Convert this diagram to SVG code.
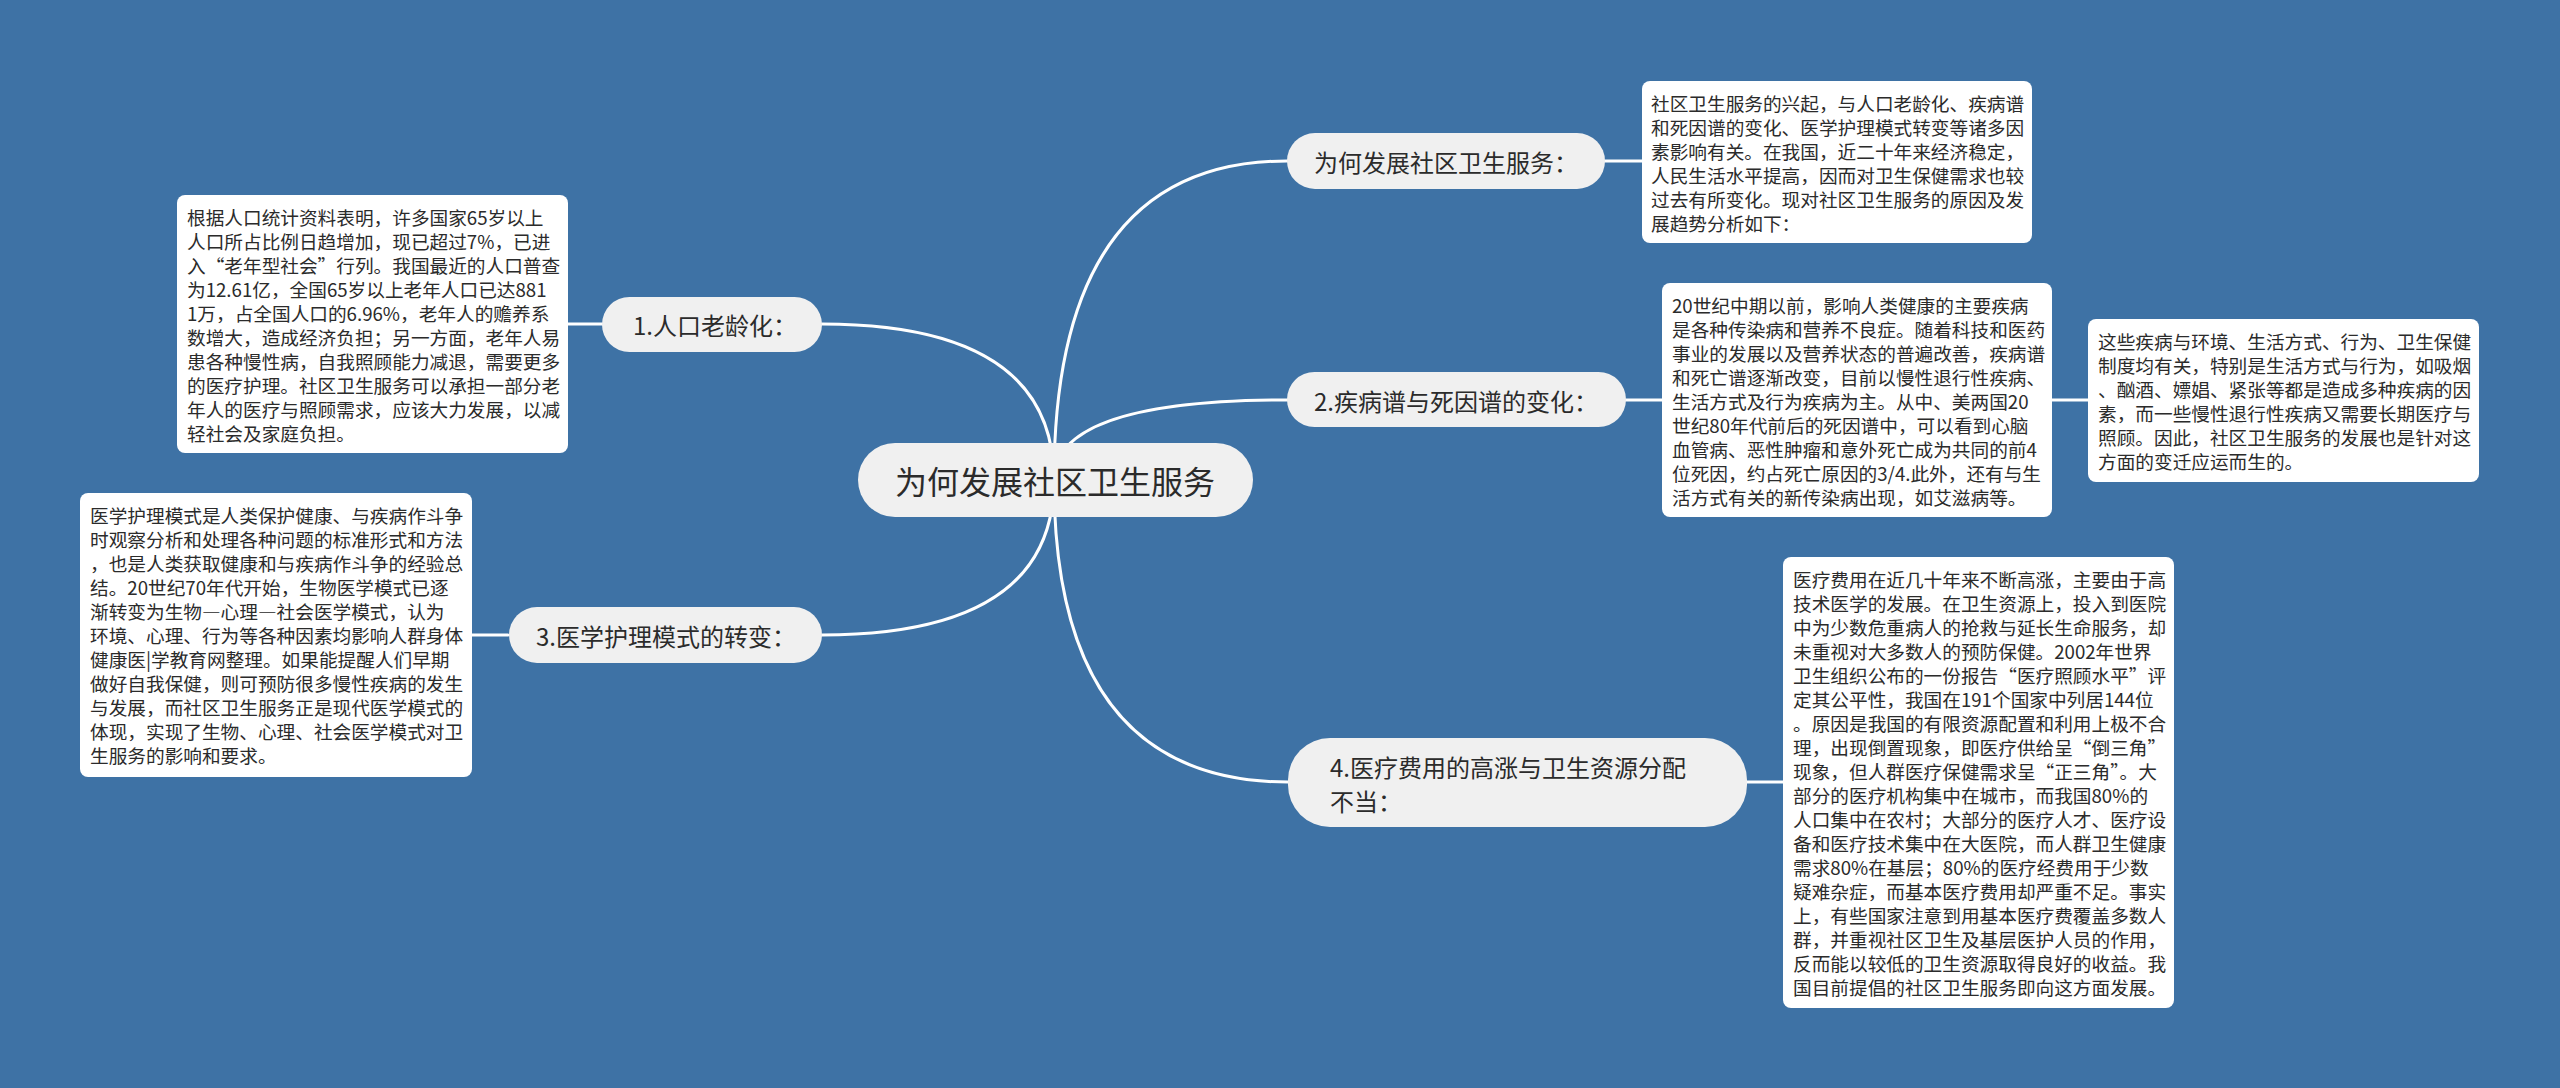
<svg xmlns="http://www.w3.org/2000/svg" width="2560" height="1088" viewBox="0 0 2560 1088">
<style>
.bg{fill:#3e72a5}
.topic{fill:#f0f0f0}
.box{fill:#ffffff}
.ln{fill:none;stroke:#ffffff;stroke-width:3;stroke-linecap:round}
text{font-family:"Noto Sans CJK SC","Noto Sans",sans-serif;fill:#2b2b2b;dominant-baseline:central}
.t24{font-size:24px}
.t32{font-size:32px}
.b{font-size:18.67px}
.fw{font-feature-settings:"fwid" 1}
</style>
<rect class="bg" x="0" y="0" width="2560" height="1088"/>
<g id="connectors">
<path class="ln" d="M1054,480 Q1054,161 1287,161"/>
<path class="ln" d="M1054,480 Q1054,400 1287,400"/>
<path class="ln" d="M1054,480 Q1054,324 822,324"/>
<path class="ln" d="M1054,480 Q1054,635 822,635"/>
<path class="ln" d="M1054,480 Q1054,782 1288,782"/>
<path class="ln" d="M1605,161 L1642,161"/>
<path class="ln" d="M1626,400 L1662,400"/>
<path class="ln" d="M2052,400 L2088,400"/>
<path class="ln" d="M1747,782 L1783,782"/>
<path class="ln" d="M568,324 L602,324"/>
<path class="ln" d="M472,635 L508,635"/>
</g>
<g id="root">
<rect class="topic" x="858" y="443" width="395" height="74" rx="37"/>
<text class="t32" x="1055" y="480" text-anchor="middle">为何发展社区卫生服务</text>
</g>
<g id="topic-why">
<rect class="topic" x="1287" y="133" width="318" height="56" rx="28"/>
<text class="t24" x="1314" y="161">为何发展社区卫生服务：</text>
</g>
<g id="topic-2">
<rect class="topic" x="1287" y="372" width="339" height="55" rx="27.5"/>
<text class="t24" x="1314" y="400">2.疾病谱与死因谱的变化：</text>
</g>
<g id="topic-1">
<rect class="topic" x="602" y="297" width="220" height="55" rx="27.5"/>
<text class="t24" x="633" y="324">1.人口老龄化：</text>
</g>
<g id="topic-3">
<rect class="topic" x="509" y="607" width="313" height="56" rx="28"/>
<text class="t24" x="536" y="635">3.医学护理模式的转变：</text>
</g>
<g id="topic-4">
<rect class="topic" x="1288" y="738" width="459" height="89" rx="42"/>
<text class="t24" x="1330" y="766">4.医疗费用的高涨与卫生资源分配</text>
<text class="t24" x="1330" y="800">不当：</text>
</g>
<g id="note-why">
<rect class="box" x="1642" y="81" width="390" height="162" rx="8"/>
<text class="b" x="1651" y="102">社区卫生服务的兴起，与人口老龄化、疾病谱</text>
<text class="b" x="1651" y="126">和死因谱的变化、医学护理模式转变等诸多因</text>
<text class="b" x="1651" y="150">素影响有关。在我国，近二十年来经济稳定，</text>
<text class="b" x="1651" y="174">人民生活水平提高，因而对卫生保健需求也较</text>
<text class="b" x="1651" y="198">过去有所变化。现对社区卫生服务的原因及发</text>
<text class="b" x="1651" y="222">展趋势分析如下：</text>
</g>
<g id="note-1">
<rect class="box" x="177" y="195" width="391" height="258" rx="8"/>
<text class="b" x="187" y="216">根据人口统计资料表明，许多国家65岁以上</text>
<text class="b" x="187" y="240">人口所占比例日趋增加，现已超过7%，已进</text>
<text class="b" x="187" y="264">入“老年型社会”行列。我国最近的人口普查</text>
<text class="b" x="187" y="288">为12.61亿，全国65岁以上老年人口已达881</text>
<text class="b" x="187" y="312">1万，占全国人口的6.96%，老年人的赡养系</text>
<text class="b" x="187" y="336">数增大，造成经济负担；另一方面，老年人易</text>
<text class="b" x="187" y="360">患各种慢性病，自我照顾能力减退，需要更多</text>
<text class="b" x="187" y="384">的医疗护理。社区卫生服务可以承担一部分老</text>
<text class="b" x="187" y="408">年人的医疗与照顾需求，应该大力发展，以减</text>
<text class="b" x="187" y="432">轻社会及家庭负担。</text>
</g>
<g id="note-2">
<rect class="box" x="1662" y="283" width="390" height="234" rx="8"/>
<text class="b" x="1672" y="304">20世纪中期以前，影响人类健康的主要疾病</text>
<text class="b" x="1672" y="328">是各种传染病和营养不良症。随着科技和医药</text>
<text class="b" x="1672" y="352">事业的发展以及营养状态的普遍改善，疾病谱</text>
<text class="b" x="1672" y="376">和死亡谱逐渐改变，目前以慢性退行性疾病、</text>
<text class="b" x="1672" y="400">生活方式及行为疾病为主。从中、美两国20</text>
<text class="b" x="1672" y="424">世纪80年代前后的死因谱中，可以看到心脑</text>
<text class="b" x="1672" y="448">血管病、恶性肿瘤和意外死亡成为共同的前4</text>
<text class="b" x="1672" y="472">位死因，约占死亡原因的3/4.此外，还有与生</text>
<text class="b" x="1672" y="496">活方式有关的新传染病出现，如艾滋病等。</text>
</g>
<g id="note-2b">
<rect class="box" x="2088" y="319" width="391" height="163" rx="8"/>
<text class="b" x="2098" y="340">这些疾病与环境、生活方式、行为、卫生保健</text>
<text class="b" x="2098" y="364">制度均有关，特别是生活方式与行为，如吸烟</text>
<text class="b" x="2098" y="388">、酗酒、嫖娼、紧张等都是造成多种疾病的因</text>
<text class="b" x="2098" y="412">素，而一些慢性退行性疾病又需要长期医疗与</text>
<text class="b" x="2098" y="436">照顾。因此，社区卫生服务的发展也是针对这</text>
<text class="b" x="2098" y="460">方面的变迁应运而生的。</text>
</g>
<g id="note-3">
<rect class="box" x="80" y="493" width="392" height="284" rx="8"/>
<text class="b" x="90" y="514">医学护理模式是人类保护健康、与疾病作斗争</text>
<text class="b" x="90" y="538">时观察分析和处理各种问题的标准形式和方法</text>
<text class="b" x="90" y="562">，也是人类获取健康和与疾病作斗争的经验总</text>
<text class="b" x="90" y="586">结。20世纪70年代开始，生物医学模式已逐</text>
<text class="b fw" x="90" y="610">渐转变为生物—心理—社会医学模式，认为</text>
<text class="b" x="90" y="634">环境、心理、行为等各种因素均影响人群身体</text>
<text class="b" x="90" y="658">健康医|学教育网整理。如果能提醒人们早期</text>
<text class="b" x="90" y="682">做好自我保健，则可预防很多慢性疾病的发生</text>
<text class="b" x="90" y="706">与发展，而社区卫生服务正是现代医学模式的</text>
<text class="b" x="90" y="730">体现，实现了生物、心理、社会医学模式对卫</text>
<text class="b" x="90" y="754">生服务的影响和要求。</text>
</g>
<g id="note-4">
<rect class="box" x="1783" y="557" width="391" height="451" rx="8"/>
<text class="b" x="1793" y="578">医疗费用在近几十年来不断高涨，主要由于高</text>
<text class="b" x="1793" y="602">技术医学的发展。在卫生资源上，投入到医院</text>
<text class="b" x="1793" y="626">中为少数危重病人的抢救与延长生命服务，却</text>
<text class="b" x="1793" y="650">未重视对大多数人的预防保健。2002年世界</text>
<text class="b" x="1793" y="674">卫生组织公布的一份报告“医疗照顾水平”评</text>
<text class="b" x="1793" y="698">定其公平性，我国在191个国家中列居144位</text>
<text class="b" x="1793" y="722">。原因是我国的有限资源配置和利用上极不合</text>
<text class="b" x="1793" y="746">理，出现倒置现象，即医疗供给呈“倒三角”</text>
<text class="b" x="1793" y="770">现象，但人群医疗保健需求呈“正三角”。大</text>
<text class="b" x="1793" y="794">部分的医疗机构集中在城市，而我国80%的</text>
<text class="b" x="1793" y="818">人口集中在农村；大部分的医疗人才、医疗设</text>
<text class="b" x="1793" y="842">备和医疗技术集中在大医院，而人群卫生健康</text>
<text class="b" x="1793" y="866">需求80%在基层；80%的医疗经费用于少数</text>
<text class="b" x="1793" y="890">疑难杂症，而基本医疗费用却严重不足。事实</text>
<text class="b" x="1793" y="914">上，有些国家注意到用基本医疗费覆盖多数人</text>
<text class="b" x="1793" y="938">群，并重视社区卫生及基层医护人员的作用，</text>
<text class="b" x="1793" y="962">反而能以较低的卫生资源取得良好的收益。我</text>
<text class="b" x="1793" y="986">国目前提倡的社区卫生服务即向这方面发展。</text>
</g>
</svg>
